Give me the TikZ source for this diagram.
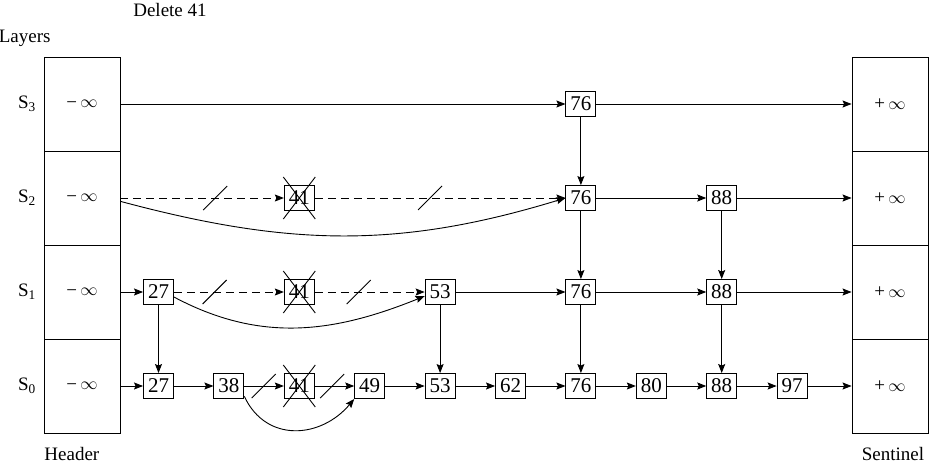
\documentclass[tikz,border=0pt]{standalone}
\usepackage{fontspec}
\setmainfont{Liberation Serif}
\usetikzlibrary{arrows.meta}
\begin{document}
\begin{tikzpicture}[x=1pt,y=1pt,line width=0.9pt,
	every node/.style={font=\fontsize{19}{22}\selectfont},
	key/.style={draw,minimum width=30pt,minimum height=25pt,inner sep=0pt,font=\fontsize{21}{24}\selectfont},
	cell/.style={draw,minimum width=76pt,minimum height=94pt,inner sep=0pt,font=\fontsize{19}{22}\selectfont},
	arr/.style={-{Stealth[length=9pt,width=7pt,inset=1.5pt]}},
	gap/.style={dash pattern=on 8pt off 5pt}]
		\useasboundingbox (0,0) rectangle (929,-466);
		
		% header and sentinel columns
		\node[cell] (h3) at (82,-104) {\raisebox{-1pt}{−}\,$\infty$};
		\node[cell] (h2) at (82,-198) {\raisebox{-1pt}{−}\,$\infty$};
		\node[cell] (h1) at (82,-292) {\raisebox{-1pt}{−}\,$\infty$};
		\node[cell] (h0) at (82,-386) {\raisebox{-1pt}{−}\,$\infty$};
		\node[cell] (t3) at (890,-104) {+\,$\infty$};
		\node[cell] (t2) at (890,-198) {+\,$\infty$};
		\node[cell] (t1) at (890,-292) {+\,$\infty$};
		\node[cell] (t0) at (890,-386) {+\,$\infty$};
		
		\node (l3) at (27,-104) {S\textsubscript{3}};
		\node (l2) at (27,-198) {S\textsubscript{2}};
		\node (l1) at (27,-292) {S\textsubscript{1}};
		\node (l0) at (27,-386) {S\textsubscript{0}};
		
		\node[anchor=west] (layers) at (-5,-38) {Layers};
		\node (title) at (170,-10) {Delete 41};
		\node[anchor=base west,inner sep=0pt] (hdr) at (44,-460) {Header};
		\node[anchor=base,inner sep=0pt] (snt) at (893,-460) {Sentinel};
		
		% keys
		\node[key] (s3n76) at (580.9,-104) {76};
		
		\node[key] (s2n41) at (299.3,-198) {41};
		\node[key] (s2n76) at (580.9,-198) {76};
		\node[key] (s2n88) at (721.7,-198) {88};
		
		\node[key] (s1n27) at (158.5,-292) {27};
		\node[key] (s1n41) at (299.3,-292) {41};
		\node[key] (s1n53) at (440.1,-292) {53};
		\node[key] (s1n76) at (580.9,-292) {76};
		\node[key] (s1n88) at (721.7,-292) {88};
		
		\node[key] (s0n27) at (158.5,-386) {27};
		\node[key] (s0n38) at (228.9,-386) {38};
		\node[key] (s0n41) at (299.3,-386) {41};
		\node[key] (s0n49) at (369.7,-386) {49};
		\node[key] (s0n53) at (440.1,-386) {53};
		\node[key] (s0n62) at (510.5,-386) {62};
		\node[key] (s0n76) at (580.9,-386) {76};
		\node[key] (s0n80) at (651.3,-386) {80};
		\node[key] (s0n88) at (721.7,-386) {88};
		\node[key] (s0n97) at (792.1,-386) {97};
		
		% crossed out
		\draw (s2n41.center) +(-16,-21) -- +(16,21) +(-16,21) -- +(16,-21);
		\draw (s1n41.center) +(-16,-21) -- +(16,21) +(-16,21) -- +(16,-21);
		\draw (s0n41.center) +(-16,-21) -- +(16,21) +(-16,21) -- +(16,-21);
		
		% S3
		\draw[arr] (h3) -- (s3n76);
		\draw[arr] (s3n76) -- (t3);
		\draw[arr] (s3n76) -- (s2n76);
		
		% S2
		\draw[arr,gap] (h2) -- coordinate[pos=.58] (c21) (s2n41);
		\draw[arr,gap] (s2n41) -- coordinate[pos=.46] (c22) (s2n76);
		\draw (c21) +(-12,-12) -- +(12,12);
		\draw (c22) +(-12,-12) -- +(12,12);
		\draw[arr] (h2.-5) to[out=-15,in=197] (s2n76.west);
		\draw[arr] (s2n76) -- (s2n88);
		\draw[arr] (s2n88) -- (t2);
		\draw[arr] (s2n76) -- (s1n76);
		\draw[arr] (s2n88) -- (s1n88);
		
		% S1
		\draw[arr] (h1) -- (s1n27);
		\draw[arr,gap] (s1n27) -- coordinate[pos=.37] (c11) (s1n41);
		\draw[arr,gap] (s1n41) -- coordinate[pos=.40] (c12) (s1n53);
		\draw (c11) +(-12,-12) -- +(12,12);
		\draw (c12) +(-12,-12) -- +(12,12);
		\draw[arr] (s1n27.-18) to[out=-28,in=202] (s1n53.-165);
		\draw[arr] (s1n53) -- (s1n76);
		\draw[arr] (s1n76) -- (s1n88);
		\draw[arr] (s1n88) -- (t1);
		\draw[arr] (s1n27) -- (s0n27);
		\draw[arr] (s1n53) -- (s0n53);
		\draw[arr] (s1n76) -- (s0n76);
		\draw[arr] (s1n88) -- (s0n88);
		
		% S0
		\draw[arr] (h0) -- (s0n27);
		\draw[arr] (s0n27) -- (s0n38);
		\draw[arr] (s0n38) -- coordinate[pos=.49] (c01) (s0n41);
		\draw[arr] (s0n41) -- coordinate[pos=.44] (c02) (s0n49);
		\draw (c01) +(-12,-12) -- +(12,12);
		\draw (c02) +(-12,-12) -- +(12,12);
		\draw[arr] (s0n38.-34) to[out=-65,in=230,looseness=1.2] (s0n49.south west);
		\draw[arr] (s0n49) -- (s0n53);
		\draw[arr] (s0n53) -- (s0n62);
		\draw[arr] (s0n62) -- (s0n76);
		\draw[arr] (s0n76) -- (s0n80);
		\draw[arr] (s0n80) -- (s0n88);
		\draw[arr] (s0n88) -- (s0n97);
		\draw[arr] (s0n97) -- (t0);
	\end{tikzpicture}
\end{document}
